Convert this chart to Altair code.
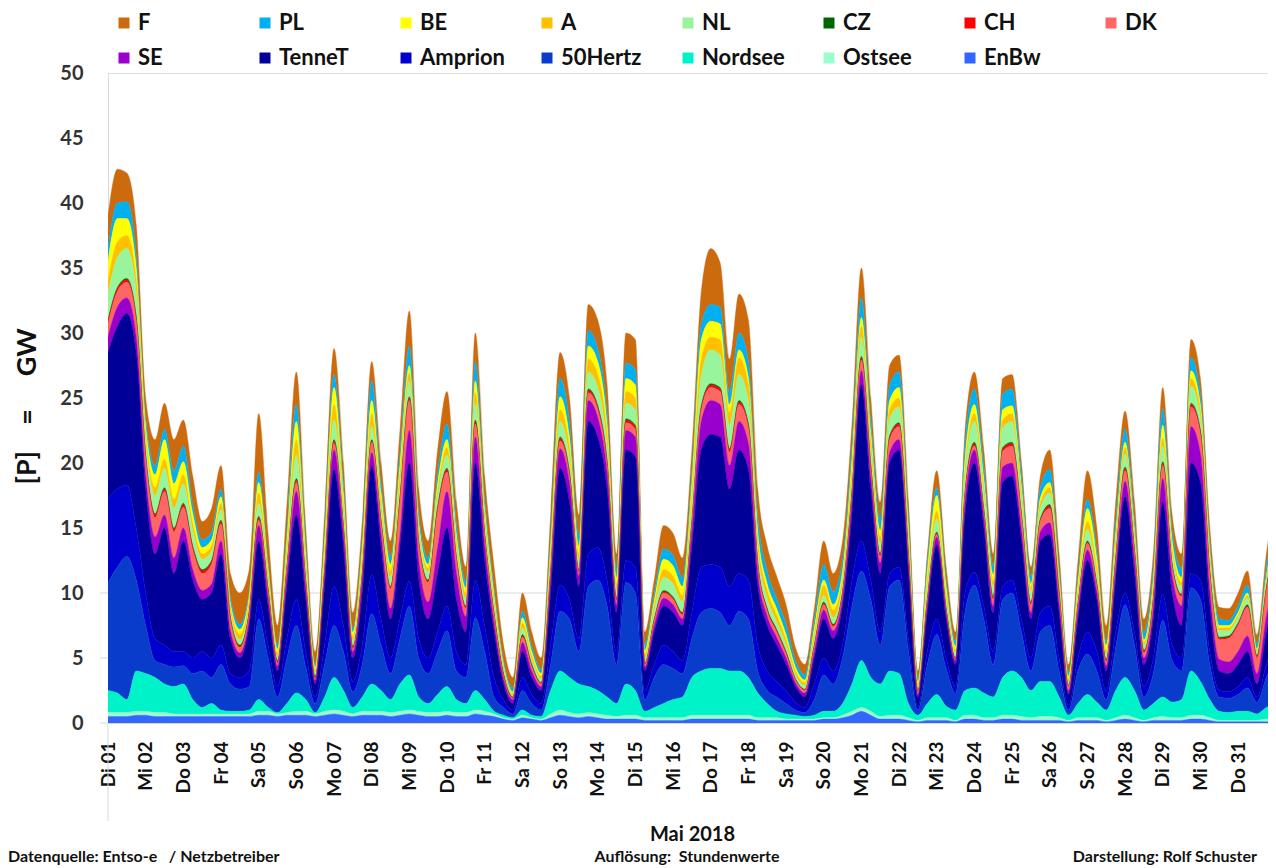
import altair as alt
import pandas as pd

# --- categories / labels -------------------------------------------------
day_labels = ["Di 01", "Mi 02", "Do 03", "Fr 04", "Sa 05", "So 06", "Mo 07", "Di 08",
              "Mi 09", "Do 10", "Fr 11", "Sa 12", "So 13", "Mo 14", "Di 15", "Mi 16",
              "Do 17", "Fr 18", "Sa 19", "So 20", "Mo 21", "Di 22", "Mi 23", "Do 24",
              "Fr 25", "Sa 26", "So 27", "Mo 28", "Di 29", "Mi 30", "Do 31"]
legend_order = ["F", "PL", "BE", "A", "NL", "CZ", "CH", "DK",
                "SE", "TenneT", "Amprion", "50Hertz", "Nordsee", "Ostsee", "EnBw"]
legend_colors = ["#cc6a0e", "#00b0f0", "#ffff00", "#ffc000", "#99f59b", "#006600", "#ff0000",
                 "#ff6666", "#9900cc", "#000099", "#0000cc", "#0a3ccc", "#00f2c8", "#99ffcc",
                 "#3366ff"]
step_hours = 6  # readings every 6 hours, May 1 00:00 .. June 1 00:00

# --- series values (GW), every 6 h ------------------------------------------
EnBw = [0.5,0.5,0.5,0.6,0.6, 0.5,0.5,0.5,0.5, 0.5,0.5,0.5,0.5, 0.5,0.5,0.5,0.6, 0.6,0.5,0.6,0.6,
        0.6,0.5,0.6,0.7, 0.6,0.5,0.6,0.6, 0.6,0.5,0.6,0.7, 0.6,0.5,0.5,0.6, 0.5,0.5,0.7,0.6,
        0.5,0.3,0.2,0.4, 0.3,0.2,0.4,0.6, 0.5,0.4,0.5,0.4, 0.3,0.3,0.3,0.3, 0.2,0.2,0.2,0.2,
        0.2,0.3,0.3,0.3, 0.3,0.3,0.3,0.3, 0.2,0.2,0.2,0.2, 0.2,0.2,0.2,0.3, 0.3,0.4,0.6,0.9,
        0.6,0.3,0.3,0.3, 0.2,0.1,0.2,0.2, 0.2,0.1,0.3,0.3, 0.2,0.2,0.3,0.3, 0.2,0.2,0.2,0.2,
        0.2,0.1,0.2,0.2, 0.2,0.1,0.2,0.3, 0.2,0.1,0.2,0.2, 0.2,0.2,0.3,0.3, 0.2,0.1,0.1,0.1,
        0.1,0.1,0.1,0.1]
Ostsee = [0.3,0.3,0.3,0.3,0.3, 0.3,0.3,0.2,0.2, 0.2,0.2,0.2,0.2, 0.2,0.2,0.2,0.3, 0.3,0.2,0.2,0.3,
          0.3,0.2,0.3,0.3, 0.3,0.2,0.3,0.3, 0.3,0.3,0.3,0.3, 0.3,0.3,0.3,0.3, 0.3,0.3,0.3,0.3,
          0.2,0.1,0.1,0.2, 0.1,0.1,0.3,0.4, 0.3,0.3,0.3,0.3, 0.3,0.2,0.3,0.3, 0.2,0.2,0.2,0.2,
          0.2,0.3,0.3,0.3, 0.3,0.3,0.3,0.3, 0.2,0.2,0.2,0.1, 0.1,0.1,0.1,0.1, 0.1,0.2,0.3,0.3,
          0.3,0.2,0.3,0.3, 0.2,0.1,0.2,0.2, 0.2,0.1,0.3,0.3, 0.2,0.2,0.3,0.3, 0.3,0.2,0.3,0.3,
          0.2,0.1,0.2,0.2, 0.2,0.1,0.2,0.3, 0.2,0.1,0.2,0.3, 0.2,0.2,0.3,0.3, 0.2,0.1,0.1,0.1,
          0.1,0.1,0.2,0.2]
Nordsee = [1.7,1.5,1.0,3.1,2.9, 2.7,2.2,2.1,2.3, 1.1,0.5,0.8,0.3, 0.2,0.2,0.3,0.9, 0.3,0.1,0.7,1.4,
           0.9,0.1,1.1,2.5, 1.6,0.5,1.1,2.1, 1.6,1.0,2.1,2.7, 1.1,0.7,1.4,1.9, 1.0,0.7,1.5,0.9,
           0.2,0.2,0.1,0.4, 0.2,0.2,1.8,3.0, 2.7,2.3,2.0,1.8, 1.4,1.0,2.4,1.9, 0.5,0.8,1.1,1.4,
           1.6,2.9,3.4,3.6, 3.6,3.4,3.4,2.9, 1.9,1.1,0.5,0.4, 0.3,0.2,0.3,0.5, 0.5,0.9,2.1,3.6,
           2.6,2.5,3.4,3.2, 1.1,0.4,1.1,1.8, 0.9,0.8,1.9,2.1, 1.9,1.6,2.9,3.4, 3.0,2.1,2.7,2.7,
           1.6,0.4,1.1,1.8, 1.2,0.8,2.1,2.9, 2.1,0.8,1.1,1.5, 1.2,1.4,3.4,2.6, 1.4,0.7,0.6,0.7,
           0.7,0.5,0.9,1.1]
Hertz50 = [8.3,9.7,11.0,7.0,3.7, 1.3,1.5,1.5,1.4, 2.0,2.8,2.0,3.5, 2.1,1.7,1.8,6.2, 3.8,1.2,3.5,5.2,
           2.5,0.7,2.5,4.0, 3.0,1.2,2.5,5.4, 3.5,2.0,3.5,5.3, 3.0,2.3,3.3,4.3, 2.2,2.0,5.6,3.7,
           1.1,0.6,0.3,1.5, 0.9,0.5,2.0,4.6, 4.5,2.5,7.7,8.5, 7.0,3.0,7.8,7.5, 0.9,2.3,3.0,2.4,
           1.8,3.0,4.5,4.6, 4.3,3.5,4.6,4.5, 1.7,1.0,1.1,0.8, 0.4,0.3,1.2,2.8, 2.1,3.5,6.0,6.9,
           6.0,3.0,6.5,7.2, 4.0,0.4,3.0,4.6, 2.9,1.3,6.0,7.9, 5.7,2.5,6.0,6.0, 3.5,1.5,3.8,4.3,
           2.0,0.4,2.5,3.1, 2.4,0.8,3.3,5.6, 3.5,1.0,2.3,5.9, 3.2,2.2,6.4,6.3, 2.7,1.1,1.1,1.3,
           1.8,0.9,2.3,3.6]
Amprion = [6.5,6.0,5.5,4.0,2.5, 1.7,1.5,1.2,1.1, 1.2,1.5,1.5,1.5, 0.8,0.9,1.2,1.5, 1.0,0.8,1.5,2.0,
           1.2,0.5,1.5,3.0, 2.0,0.8,1.5,3.0, 2.0,1.2,1.5,1.9, 1.5,1.2,1.5,1.9, 1.5,1.0,2.9,2.0,
           1.5,0.6,0.3,1.0, 0.7,0.5,1.5,2.0, 1.5,1.0,2.5,2.5, 2.0,1.0,1.7,2.0, 0.7,1.0,1.5,1.3,
           1.0,2.0,3.5,3.4, 3.5,3.0,2.9,3.0, 2.0,1.5,1.2,1.0, 0.6,0.4,1.2,1.3, 1.0,1.0,2.0,2.3,
           1.5,1.0,1.0,1.0, 1.0,0.3,1.0,1.2, 0.8,0.5,1.5,1.0, 1.0,1.0,1.0,1.0, 1.0,1.0,1.5,1.5,
           1.0,0.4,1.0,1.7, 1.5,0.7,1.2,0.9, 1.0,0.8,1.2,2.0, 1.2,1.0,1.1,1.5, 1.0,0.5,0.5,0.6,
           0.8,0.4,1.0,1.5]
TenneT = [11.2,12.5,13.2,13.5,8.0, 6.5,9.0,6.0,8.5, 6.0,4.0,5.0,7.0, 2.7,1.5,3.5,4.5, 3.0,1.2,4.0,6.5,
          4.0,1.0,4.5,9.0, 6.0,1.8,4.0,8.4, 5.5,3.0,5.5,9.1, 4.5,3.0,4.5,6.0, 4.0,2.5,9.0,5.0,
          3.5,1.2,0.5,2.0, 1.3,1.0,4.0,9.0, 7.5,4.0,10.2,8.5, 7.0,3.0,8.5,8.5, 1.5,2.5,3.0,3.0,
          2.7,5.0,9.0,10.0, 10.0,7.5,9.5,8.5, 4.5,3.5,2.8,2.0, 1.2,0.8,2.0,3.0, 2.5,3.0,5.0,12.0,
          7.0,4.5,8.5,9.0, 5.0,0.7,3.0,5.7, 3.0,1.7,6.0,8.4, 6.0,3.0,8.0,8.0, 6.0,3.0,5.5,5.5,
          3.5,0.8,3.0,5.5, 4.0,1.5,4.0,7.4, 4.5,1.7,3.0,7.1, 4.0,2.5,8.5,7.5, 3.5,1.5,1.4,1.7,
          2.0,1.0,2.5,3.5]
SE = [1.2,1.5,1.2,1.2,1.1, 1.3,1.0,1.2,1.0, 0.8,0.7,0.7,1.0, 0.6,0.4,0.5,1.2, 0.7,0.4,0.8,1.8,
      0.8,0.3,0.8,1.5, 1.0,0.5,1.0,1.0, 1.0,0.8,1.0,2.5, 1.5,1.3,2.0,2.8, 2.0,1.2,2.0,1.2,
      0.7,0.4,0.3,0.7, 0.5,0.3,1.0,1.5, 1.5,0.8,1.6,1.5, 1.3,0.6,1.5,1.5, 0.3,0.5,0.6,0.6,
      0.5,1.2,2.2,2.6, 2.5,1.8,2.2,2.0, 1.0,0.7,0.6,0.5, 0.3,0.3,0.5,0.7, 0.6,0.6,1.0,1.1,
      0.9,0.8,0.8,0.8, 0.5,0.2,0.5,0.6, 0.4,0.3,0.9,1.0, 0.8,0.5,1.2,1.0, 0.8,0.5,0.7,0.9,
      0.6,0.3,0.6,0.8, 0.6,0.4,0.8,1.2, 1.0,0.5,0.8,1.8, 1.3,1.5,2.8,2.2, 1.2,0.9,0.9,1.0,
      1.2,0.8,1.2,1.5]
DK = [1.0,1.2,1.2,1.2,1.2, 1.5,1.8,2.0,1.6, 1.5,1.3,1.5,1.3, 0.8,0.4,0.4,0.4, 0.4,0.2,0.5,0.7,
      0.4,0.1,0.3,0.5, 0.4,0.2,0.3,0.8, 0.8,1.5,2.5,2.3, 1.2,1.5,2.8,1.5, 1.0,0.6,1.0,0.6,
      0.5,0.2,0.1,0.4, 0.3,0.2,0.4,0.6, 0.5,0.3,0.6,0.6, 0.5,0.3,0.6,0.6, 0.2,0.3,0.4,0.4,
      0.3,0.5,0.9,1.0, 1.0,1.0,1.3,1.2, 0.6,0.4,0.4,0.3, 0.2,0.2,0.3,0.4, 0.3,0.3,0.5,0.8,
      0.6,0.5,1.0,1.0, 0.7,0.2,0.3,0.2, 0.2,0.1,0.5,0.3, 0.4,0.5,1.2,1.3, 1.0,0.6,0.8,1.1,
      0.7,0.3,0.4,0.5, 0.4,0.3,0.6,0.8, 0.6,0.4,0.6,1.0, 0.7,0.7,1.5,1.5, 1.2,1.5,1.8,2.0,
      2.2,1.2,2.0,2.5]
CH = [0.2,0.2,0.2,0.2,0.2, 0.2,0.2,0.2,0.2, 0.2,0.2,0.2,0.2, 0.1,0.1,0.1,0.2, 0.1,0.1,0.1,0.2,
      0.1,0.1,0.1,0.2, 0.1,0.1,0.1,0.1, 0.1,0.1,0.2,0.2, 0.1,0.1,0.2,0.2, 0.1,0.1,0.2,0.1,
      0.1,0.1,0.05,0.1, 0.1,0.05,0.1,0.2, 0.2,0.1,0.2,0.2, 0.2,0.1,0.2,0.2, 0.05,0.1,0.1,0.1,
      0.1,0.2,0.2,0.2, 0.2,0.2,0.2,0.2, 0.1,0.1,0.1,0.1, 0.05,0.05,0.1,0.1, 0.1,0.1,0.2,0.2,
      0.2,0.1,0.2,0.2, 0.1,0.05,0.1,0.1, 0.1,0.05,0.2,0.2, 0.1,0.1,0.2,0.2, 0.1,0.1,0.1,0.2,
      0.1,0.05,0.1,0.1, 0.1,0.1,0.1,0.2, 0.1,0.1,0.1,0.2, 0.1,0.1,0.2,0.2, 0.1,0.1,0.1,0.1,
      0.1,0.1,0.1,0.1]
CZ = [0.1,0.1,0.1,0.1,0.1, 0.1,0.1,0.1,0.1, 0.1,0.1,0.1,0.1, 0.1,0.1,0.1,0.1, 0.1,0.1,0.1,0.1,
      0.1,0.1,0.1,0.1, 0.1,0.1,0.1,0.1, 0.1,0.1,0.1,0.1, 0.1,0.1,0.1,0.1, 0.1,0.1,0.1,0.1,
      0.1,0.1,0.05,0.1, 0.1,0.05,0.1,0.1, 0.1,0.1,0.1,0.1, 0.1,0.1,0.1,0.1, 0.05,0.1,0.1,0.1,
      0.1,0.1,0.1,0.1, 0.1,0.1,0.1,0.1, 0.1,0.1,0.1,0.1, 0.05,0.05,0.1,0.1, 0.1,0.1,0.1,0.1,
      0.1,0.1,0.1,0.1, 0.1,0.05,0.1,0.1, 0.1,0.05,0.1,0.1, 0.1,0.1,0.1,0.1, 0.1,0.1,0.1,0.1,
      0.1,0.05,0.1,0.1, 0.1,0.1,0.1,0.1, 0.1,0.1,0.1,0.1, 0.1,0.1,0.1,0.1, 0.1,0.1,0.1,0.1,
      0.1,0.1,0.1,0.1]
NL = [2.0,2.3,2.3,2.0,1.2, 1.4,1.5,1.5,1.5, 1.2,0.8,0.7,0.8, 0.5,0.4,0.4,1.0, 0.6,0.3,0.8,1.8,
      0.8,0.3,0.8,1.5, 1.0,0.4,0.8,1.0, 0.8,0.7,1.0,1.2, 0.7,0.6,0.8,1.0, 0.8,0.6,1.3,0.8,
      0.6,0.3,0.2,0.5, 0.4,0.3,0.8,1.2, 1.1,0.7,1.3,1.4, 1.2,0.6,1.2,1.2, 0.4,0.6,1.0,1.0,
      0.8,1.3,2.3,2.6, 2.5,1.8,2.0,1.8, 1.0,0.8,0.6,0.5, 0.3,0.3,0.5,0.5, 0.5,0.6,1.0,1.5,
      1.2,0.8,1.3,1.2, 0.9,0.3,0.9,1.0, 0.7,0.4,1.2,1.6, 1.3,0.8,1.5,1.6, 1.2,0.8,0.8,0.9,
      0.6,0.3,0.6,0.9, 0.7,0.4,0.9,1.0, 0.8,0.4,0.6,1.2, 0.8,0.6,1.3,1.0, 0.8,0.5,0.4,0.4,
      0.5,0.3,0.5,0.6]
A = [1.0,1.2,1.0,0.8,0.5, 0.6,0.7,0.7,0.7, 0.5,0.4,0.4,0.5, 0.3,0.4,0.4,0.8, 0.5,0.3,0.6,1.2,
     0.6,0.2,0.6,1.2, 0.8,0.3,0.6,1.0, 0.7,0.5,0.8,0.6, 0.4,0.3,0.5,0.6, 0.5,0.4,0.8,0.6,
     0.4,0.2,0.1,0.4, 0.3,0.2,0.6,0.9, 0.8,0.5,1.0,1.0, 0.9,0.5,0.9,0.9, 0.3,0.4,0.6,0.6,
     0.5,0.8,1.3,1.0, 1.2,1.0,1.3,1.2, 0.8,0.6,0.5,0.4, 0.3,0.2,0.4,0.8, 0.6,0.5,0.8,0.8,
     0.7,0.5,0.7,0.7, 0.5,0.2,0.5,0.6, 0.4,0.2,0.6,0.6, 0.5,0.4,0.6,0.6, 0.5,0.3,0.4,0.4,
     0.3,0.2,0.4,0.6, 0.5,0.3,0.5,0.5, 0.4,0.2,0.4,0.6, 0.4,0.3,0.6,0.5, 0.4,0.2,0.2,0.2,
     0.2,0.1,0.2,0.3]
BE = [1.5,1.8,1.3,1.0,0.6, 1.0,1.5,1.2,1.0, 0.8,0.5,0.5,0.5, 0.3,0.4,0.4,0.8, 0.5,0.3,0.8,1.4,
      0.7,0.2,0.8,1.3, 0.8,0.4,0.7,1.0, 0.7,0.5,0.8,0.6, 0.4,0.3,0.5,0.6, 0.5,0.4,0.9,0.6,
      0.4,0.2,0.1,0.4, 0.3,0.2,0.6,1.0, 0.8,0.6,1.0,1.0, 0.8,0.5,1.0,1.0, 0.3,0.4,0.8,0.8,
      0.7,0.9,1.5,1.2, 1.2,0.6,0.6,0.6, 0.6,0.5,0.5,0.4, 0.3,0.2,0.4,0.4, 0.4,0.5,0.8,0.7,
      0.7,0.5,0.7,0.8, 0.6,0.2,0.8,1.2, 0.6,0.3,0.8,0.7, 0.6,0.5,0.8,0.6, 0.5,0.3,0.4,0.4,
      0.3,0.2,0.6,1.0, 0.8,0.4,0.6,0.4, 0.3,0.2,0.5,1.0, 0.6,0.4,0.6,0.5, 0.4,0.2,0.2,0.2,
      0.2,0.1,0.2,0.3]
PL = [1.0,1.2,1.3,1.0,0.6, 0.7,0.8,1.0,1.2, 0.7,0.6,0.6,0.6, 0.5,0.4,0.3,0.8, 0.4,0.3,0.6,1.3,
      0.7,0.2,0.6,1.0, 0.8,0.3,0.6,1.5, 0.8,0.6,0.8,1.5, 0.8,0.5,0.8,1.2, 0.8,0.5,1.5,0.8,
      0.5,0.3,0.3,0.5, 0.4,0.3,0.8,1.4, 1.2,0.8,1.2,1.0, 0.9,0.6,1.2,1.2, 0.4,0.5,0.8,0.8,
      0.7,0.8,1.2,1.3, 1.3,1.0,1.3,1.3, 1.2,1.0,0.8,0.8, 0.5,0.4,0.6,1.2, 1.0,0.8,1.0,1.5,
      1.0,0.9,1.2,1.2, 0.9,0.3,0.6,0.6, 0.5,0.4,1.2,1.2, 1.0,0.7,1.2,1.3, 0.9,0.6,0.8,1.0,
      0.6,0.3,0.5,0.7, 0.6,0.3,0.8,1.0, 0.8,0.6,0.8,1.3, 0.8,0.7,1.0,0.8, 0.7,0.5,0.4,0.5,
      0.6,0.4,0.7,0.8]
F = [2.5,2.6,2.2,2.3,1.5, 2.0,2.0,2.4,2.0, 2.2,1.4,1.8,1.8, 1.8,2.4,1.7,4.5, 2.2,1.5,2.0,2.5,
     1.3,1.0,1.4,2.0, 1.5,1.2,1.3,1.5, 1.5,1.2,1.8,2.7, 1.8,1.3,1.8,2.5, 1.7,1.1,2.2,1.7,
     1.7,1.2,0.8,1.4, 1.1,0.9,1.6,2.0, 1.8,1.6,2.0,2.2, 2.1,1.2,2.3,2.3, 1.0,1.1,1.8,1.7,
     1.5,1.7,2.5,4.3, 3.4,2.5,3.0,3.1, 2.1,1.9,1.7,1.5, 1.0,0.8,0.9,1.8, 1.4,1.5,1.6,2.3,
     1.6,1.3,1.5,1.3, 1.2,0.5,0.7,1.3, 1.0,0.7,1.0,1.3, 1.2,0.9,1.2,1.1, 0.9,0.7,0.9,1.5,
     1.2,0.6,1.2,2.2, 1.7,1.2,1.6,1.4, 1.4,1.0,1.1,1.6, 1.2,1.1,1.4,1.2, 1.1,0.9,0.9,1.0,
     1.1,0.7,1.0,1.4]

gridline_values = [0, 5, 10]

series = {"F": F, "PL": PL, "BE": BE, "A": A, "NL": NL, "CZ": CZ, "CH": CH, "DK": DK,
          "SE": SE, "TenneT": TenneT, "Amprion": Amprion, "50Hertz": Hertz50,
          "Nordsee": Nordsee, "Ostsee": Ostsee, "EnBw": EnBw}
stack_bottom_first = list(reversed(legend_order))

n = min(len(v) for v in series.values())
rows = []
for name, vals in series.items():
    for i in range(n):
        rows.append({"t": i * step_hours / 24.0, "serie": name, "v": vals[i],
                     "ord": stack_bottom_first.index(name)})
df = pd.DataFrame(rows)

FONT = "Lato"
W, H = 1160, 650
x_domain = [0, W / 37.67]

label_expr = "[" + ",".join("'" + d + "'" for d in day_labels) + "][datum.value]"

color_scale = alt.Scale(domain=legend_order, range=legend_colors)

grid = alt.Chart(pd.DataFrame({"g": gridline_values})).mark_rule(
    color="#d9d9d9", strokeWidth=1
).encode(y=alt.Y("g:Q"), x=alt.value(-8), x2=alt.value(W))

vline = alt.Chart(pd.DataFrame({"g": [0]})).mark_rule(color="#d9d9d9", strokeWidth=1).encode(
    x=alt.value(0), y=alt.value(H), y2=alt.value(H + 98))

area = alt.Chart(df).mark_area(interpolate="monotone", clip=True, strokeWidth=0.4).encode(
    x=alt.X("t:Q",
            scale=alt.Scale(domain=x_domain, nice=False, zero=False),
            axis=alt.Axis(values=list(range(len(day_labels))), labelExpr=label_expr,
                          labelAngle=270, labelAlign="right", labelBaseline="middle",
                          labelFont=FONT, labelFontSize=19, labelFontWeight="bold",
                          labelColor="#111111", labelPadding=18, labelFlush=False,
                          labelOverlap=False, ticks=False, domain=True,
                          domainColor="#d9d9d9", grid=False,
                          title="Mai 2018", titleFont=FONT, titleFontSize=20,
                          titleFontWeight="bold", titleColor="#111111",
                          titleX=584, titleY=111, titleAlign="center",
                          titleBaseline="middle")),
    y=alt.Y("v:Q", stack="zero",
            scale=alt.Scale(domain=[0, 50], nice=False),
            axis=alt.Axis(values=list(range(0, 51, 5)),
                          labelFont=FONT, labelFontSize=20, labelFontWeight="bold",
                          labelColor="#333333", labelPadding=25, ticks=False,
                          domain=True, domainColor="#d9d9d9", grid=False,
                          title="[P]\u00a0\u00a0\u00a0\u00a0=\u00a0\u00a0\u00a0\u00a0\u00a0GW",
                          titleFont=FONT, titleFontSize=27, titleFontWeight="bold",
                          titleColor="#111111", titleAngle=270, titleX=-81, titleY=333,
                          titleAlign="center", titleBaseline="middle")),
    color=alt.Color("serie:N", scale=color_scale,
                    legend=alt.Legend(title=None, orient="none", legendX=5, legendY=-61,
                                      direction="horizontal", columns=8,
                                      symbolType="square", symbolSize=121,
                                      symbolStrokeWidth=0, symbolOpacity=1,
                                      labelFont=FONT, labelFontSize=22,
                                      labelFontWeight="bold", labelColor="#111111",
                                      labelOffset=3, columnPadding=30, rowPadding=13,
                                      gridAlign="all", padding=0, labelLimit=250)),
    stroke=alt.Stroke("serie:N", scale=color_scale, legend=None),
    order=alt.Order("ord:Q", sort="ascending"),
)

foot_df = pd.DataFrame({"txt": ["Datenquelle: Entso-e\u00a0\u00a0 / Netzbetreiber",
                                "Aufl\u00f6sung:\u00a0 Stundenwerte",
                                "Darstellung: Rolf Schuster"]})

def footer(idx, xpos, align):
    return alt.Chart(foot_df.iloc[[idx]]).mark_text(
        font=FONT, fontSize=16, fontWeight="bold", color="#111111", align=align,
        baseline="middle"
    ).encode(text="txt:N", x=alt.value(xpos), y=alt.value(H + 134))

chart = alt.layer(
    grid, vline, area,
    footer(0, -100, "left"), footer(1, 579, "center"), footer(2, 1149, "right"),
).properties(
    width=W, height=H,
    padding={"left": 100, "top": 65, "right": 0, "bottom": 145},
    autosize=alt.AutoSizeParams(type="none"),
).configure_view(stroke=None).configure(background="white")

chart.save("out.html", embed_options={"renderer": "svg", "actions": False})
